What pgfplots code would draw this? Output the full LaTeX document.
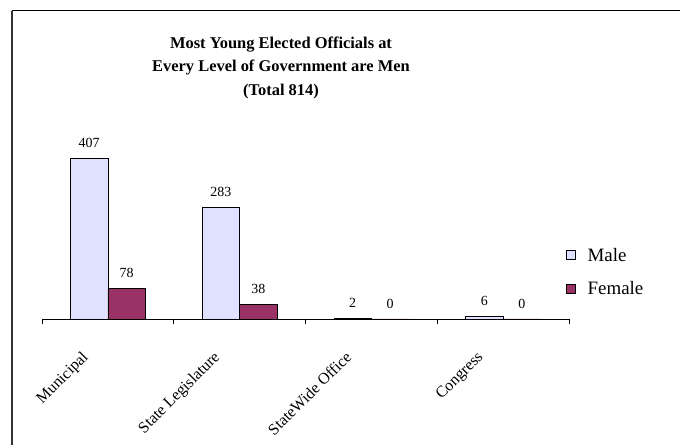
\documentclass[border=0pt]{standalone}
\usepackage{pgfplots}
\pgfplotsset{compat=1.18}
\usepackage{fontspec}
\setmainfont{Liberation Serif}
\definecolor{male}{RGB}{224,224,255}
\definecolor{female}{RGB}{153,51,102}
\begin{document}
\begin{tikzpicture}[x=1bp,y=1bp]
\useasboundingbox (0,0) rectangle (680,445);
\draw[line width=1.3bp, black!80] (12,0) -- (12,434);
\draw[line width=1bp] (11.5,434) -- (680,434);
\node[font=\fontsize{16.5}{24}\selectfont\bfseries, align=center, anchor=north] at (281,412)
  {Most Young Elected Officials at\\Every Level of Government are Men\\(Total 814)};
\begin{axis}[
  at={(42bp,126bp)}, anchor=south west,
  scale only axis, width=527bp, height=197bp,
  xmin=-0.5, xmax=3.5, ymin=0, ymax=500,
  axis x line*=bottom, axis y line=none,
  ybar=0pt, bar width=37.5bp,
  xtick={0,1,2,3},
  xticklabels={Municipal,State Legislature,StateWide Office,Congress},
  major tick length=0pt,
  minor xtick={-0.5,0.5,1.5,2.5,3.5},
  minor tick length=5bp, tick align=outside,
  tick style={black, line width=0.6bp},
  x axis line style={-, line width=0.6bp},
  xticklabel style={xshift=-27bp, yshift=-31bp, rotate=45, anchor=north east, inner sep=0pt,
    font=\fontsize{16}{18}\selectfont},
  nodes near coords,
  every node near coord/.append style={font=\fontsize{14}{16}\selectfont, yshift=7bp},
  /pgf/number format/assume math mode=true,
  legend style={at={(0.994,0.362)}, anchor=north west, draw=none, fill=none,
    font=\fontsize{19}{21}\selectfont, row sep=18.5bp, inner sep=0pt, nodes={inner sep=0pt}},
  legend cell align=left,
  legend image code/.code={\draw[#1, draw=black, line width=0.6bp] (0bp,-4.5bp) rectangle (9bp,4.5bp); \path (21bp,0bp);},
  clip=false,
]
\addplot[fill=male, draw=black, line width=0.6bp] coordinates {(0,407) (1,283) (2,2) (3,6)};
\addplot[fill=female, draw=black, line width=0.6bp] coordinates {(0,78) (1,38) (2,0) (3,0)};
\legend{Male,Female}
\end{axis}
\end{tikzpicture}
\end{document}
